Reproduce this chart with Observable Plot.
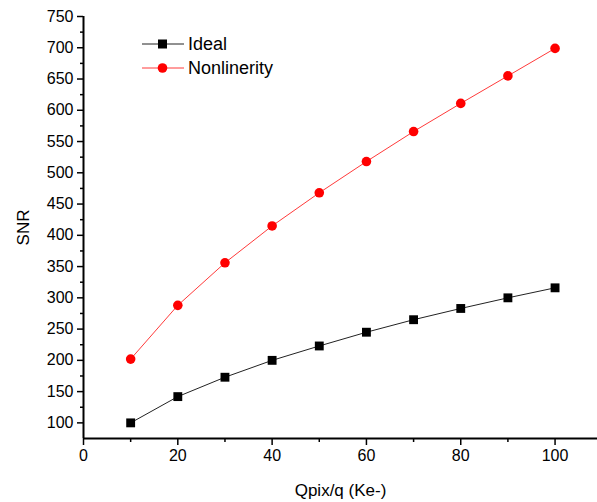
<!DOCTYPE html>
<html>
<head>
<meta charset="utf-8">
<script src="https://cdn.jsdelivr.net/npm/d3@7"></script>
<script src="https://cdn.jsdelivr.net/npm/@observablehq/plot@0.6"></script>
<style>
  html, body { margin: 0; padding: 0; background: #fff; }
  #wrap { position: relative; width: 597px; height: 502px; font-family: "Liberation Sans", Arial, sans-serif; }
  #legend { position: absolute; left: 142px; top: 32px; font-size: 18px; color: #000; }
  #legend .row { display: flex; align-items: center; height: 24px; }
  #legend svg { margin-right: 4px; }
</style>
</head>
<body>
<div id="wrap"></div>
<script>
const charge = [10, 20, 30, 40, 50, 60, 70, 80, 90, 100];
const ideal = [100, 142, 173, 200, 223, 245, 265, 283, 300, 316];
const nonlinearity = [202, 288, 356, 415, 468, 518, 566, 611, 655, 699];
const seriesNames = ["Ideal", "Nonlinerity"];
const xTicks = [0, 20, 40, 60, 80, 100];
const xMinor = [10, 30, 50, 70, 90];
const yTicks = [100, 150, 200, 250, 300, 350, 400, 450, 500, 550, 600, 650, 700, 750];
const yMinor = [125, 175, 225, 275, 325, 375, 425, 475, 525, 575, 625, 675, 725];

const idealData = charge.map((x, i) => ({x, y: ideal[i]}));
const nonlinData = charge.map((x, i) => ({x, y: nonlinearity[i]}));

const chart = Plot.plot({
  width: 597,
  height: 502,
  marginLeft: 83,
  marginRight: 0,
  marginTop: 16,
  marginBottom: 64,
  style: {fontFamily: "'Liberation Sans', Arial, sans-serif", fontSize: "16px", color: "#000", background: "#fff"},
  x: {domain: [0, 109]},
  y: {domain: [75, 750]},
  marks: [
    Plot.axisX(xTicks, {tickSize: 7, tickPadding: 4, strokeWidth: 1.5, fontSize: 16, label: "Qpix/q (Ke-)", labelAnchor: "center", labelArrow: "none", labelOffset: 57}),
    Plot.axisX(xMinor, {tickSize: 4, strokeWidth: 1.5, text: null, label: null}),
    Plot.axisY(yTicks, {tickSize: 6, tickPadding: 4, strokeWidth: 1.5, fontSize: 16, label: "SNR", labelAnchor: "center", labelArrow: "none", labelOffset: 67}),
    Plot.axisY(yMinor, {tickSize: 3, strokeWidth: 1.5, text: null, label: null}),
    Plot.ruleY([75], {stroke: "#000", strokeWidth: 2}),
    Plot.ruleX([0], {stroke: "#000", strokeWidth: 2}),
    Plot.line(idealData, {x: "x", y: "y", stroke: "#222", strokeWidth: 1}),
    Plot.line(nonlinData, {x: "x", y: "y", stroke: "#ff3a3a", strokeWidth: 1}),
    Plot.dot(idealData, {x: "x", y: "y", symbol: "square", r: 5, fill: "#000", stroke: "none"}),
    Plot.dot(nonlinData, {x: "x", y: "y", symbol: "circle", r: 4.8, fill: "#ff0000", stroke: "none"})
  ]
});
chart.querySelectorAll("text").forEach(t => t.setAttribute("fill", "#000"));
chart.querySelectorAll('g[aria-label="x-axis label"], g[aria-label="y-axis label"]').forEach(g => {
  g.setAttribute("font-size", "17");
  g.querySelectorAll("text").forEach(t => t.setAttribute("font-size", "17"));
});
const wrap = document.getElementById("wrap");
wrap.appendChild(chart);

const legend = document.createElement("div");
legend.id = "legend";
legend.innerHTML = `
  <div class="row"><svg width="42" height="12"><line x1="0" y1="6" x2="42" y2="6" stroke="#222" stroke-width="1"/><rect x="16" y="1.5" width="9" height="9" fill="#000"/></svg><span>${seriesNames[0]}</span></div>
  <div class="row"><svg width="42" height="12"><line x1="0" y1="6" x2="42" y2="6" stroke="#ff3a3a" stroke-width="1"/><circle cx="20.5" cy="6" r="4.8" fill="#ff0000"/></svg><span>${seriesNames[1]}</span></div>`;
wrap.appendChild(legend);
</script>
</body>
</html>
